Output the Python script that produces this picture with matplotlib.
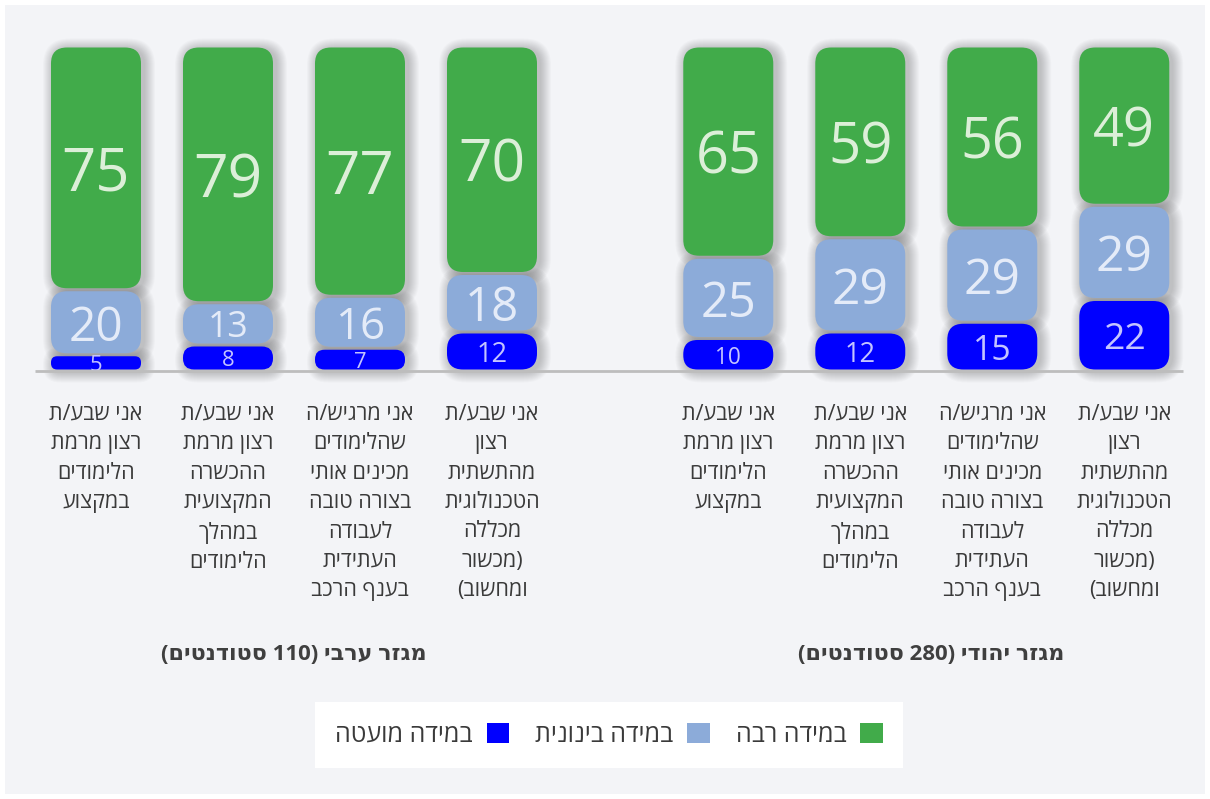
import re
import matplotlib
matplotlib.use("Agg")
import matplotlib.pyplot as plt
from matplotlib.patches import FancyBboxPatch, Rectangle, Patch

plt.rcParams['font.family'] = ['Open Sans', 'DejaVu Sans']

# ---------------- data ----------------
groups = ["מגזר ערבי (110 סטודנטים)", "מגזר יהודי (280 סטודנטים)"]
categories = [
    "אני שבע/ת\nרצון מרמת\nהלימודים\nבמקצוע",
    "אני שבע/ת\nרצון מרמת\nההכשרה\nהמקצועית\nבמהלך\nהלימודים",
    "אני מרגיש/ה\nשהלימודים\nמכינים אותי\nבצורה טובה\nלעבודה\nהעתידית\nבענף הרכב",
    "אני שבע/ת\nרצון\nמהתשתית\nהטכנולוגית\nמכללה\n(מכשור\nומחשוב)",
]
series_names = ["במידה מועטה", "במידה בינונית", "במידה רבה"]
arab_low = [5, 8, 7, 12]
arab_mid = [20, 13, 16, 18]
arab_high = [75, 79, 77, 70]
jewish_low = [10, 12, 15, 22]
jewish_mid = [25, 29, 29, 29]
jewish_high = [65, 59, 56, 49]

colors = ["#0000ff", "#8cabd9", "#41ab4a"]
text_colors = ["#c4c4ff", "#e4ebf8", "#dcefd8"]


def visual(s):
    """Convert logical RTL Hebrew line to visual (LTR drawn) order."""
    out = s[::-1].translate(str.maketrans('()', ')('))
    return re.sub(r'\d+', lambda m: m.group(0)[::-1], out)


def visual_lines(s):
    return "\n".join(visual(line) for line in s.split("\n"))


W, H = 1210, 799
fig = plt.figure(figsize=(W / 100, H / 100), dpi=100, facecolor="white")

ax = fig.add_axes([0, 0, 1, 1])
ax.set_facecolor("none")
# mapping: pixel x = 96 + 132*x ; pixel y(top) = 371 - 3.25*y
PXX, PXY = 132.0, 3.25
X0, Y0 = 96.0, 371.0
ax.set_xlim(-X0 / PXX, (W - X0) / PXX)
ax.set_ylim(-(H - Y0) / PXY, Y0 / PXY)
ax.axis("off")

# panel background
ax.add_patch(Rectangle((5 / W, 5 / H), 1200 / W, 789 / H, transform=ax.transAxes,
                       facecolor="#f3f4f7", edgecolor="none", zorder=0))

positions = [[0, 1, 2, 3], [4.79, 5.79, 6.79, 7.79]]
data = [[arab_low, arab_mid, arab_high], [jewish_low, jewish_mid, jewish_high]]

bar_w = 90 / PXX
gap = 1.5 / PXY
aspect = PXX / PXY


def rbox(x, y0, y1, rad_px, **kw):
    h_px = (y1 - y0) * PXY
    r = min(rad_px, h_px / 2 - 0.5) / PXX
    r = max(r, 0.001)
    p = FancyBboxPatch((x - bar_w / 2, y0), bar_w, y1 - y0,
                       boxstyle=f"round,pad=0,rounding_size={r}",
                       mutation_aspect=aspect, **kw)
    ax.add_patch(p)
    return p


def label_size(v, s):
    seg_px = v * PXY
    if s == 0:
        w = min(0.8 * seg_px, 43)
    else:
        w = min(0.97 * seg_px, 50 + 0.25 * v)
    fs_px = max(w / 1.15, 22)
    return fs_px * 0.72


for g in range(2):
    for i, x in enumerate(positions[g]):
        bottom = 0
        for s in range(3):
            v = data[g][s][i]
            y0 = bottom + gap
            y1 = bottom + v - gap
            # soft shadow
            for k in range(1, 12):
                ex = k / PXX
                ey = k / PXY
                h_px = (y1 - y0) * PXY + 2 * k
                r = min(16 + k, h_px / 2 - 0.5) / PXX
                sh = FancyBboxPatch((x - bar_w / 2 - ex + 3 / PXX, y0 - ey - 2 / PXY),
                                    bar_w + 2 * ex, y1 - y0 + 2 * ey,
                                    boxstyle=f"round,pad=0,rounding_size={r}",
                                    mutation_aspect=aspect, facecolor="black",
                                    edgecolor="none", alpha=0.02, zorder=1)
                ax.add_patch(sh)
            rbox(x, y0, y1, 16, facecolor=colors[s], edgecolor="none", zorder=2)
            ax.text(x, bottom + v / 2, str(v), ha="center", va="center_baseline",
                    fontsize=label_size(v, s), color=text_colors[s], zorder=3)
            bottom += v
        ax.text(x, -33 / PXY, visual_lines(categories[i]), ha="center", va="top",
                fontsize=15.5, color="#3a3a3a", linespacing=1.52, zorder=3)
    gx = (positions[g][0] + positions[g][-1]) / 2 + (0.04 if g == 1 else 0)
    ax.text(gx, -(655 - Y0) / PXY, visual(groups[g]), ha="center", va="center",
            fontsize=16, fontweight="bold", color="#3f3f3f", zorder=3)

# baseline
ax.plot([(35 - X0) / PXX, (1183 - X0) / PXX], [0, 0], color="#bdbdbd", lw=2, zorder=4,
        solid_capstyle="butt")

# legend (RTL: text left of marker)
handles = [Patch(facecolor=colors[s], edgecolor="none") for s in range(3)]
leg = fig.legend(handles, [visual(n) for n in series_names], ncol=3, markerfirst=False,
                 loc="center", bbox_to_anchor=(609 / W, 1 - 735 / H), frameon=True,
                 fontsize=18, handlelength=0.9, handleheight=0.85, handletextpad=0.55,
                 columnspacing=1.05, borderpad=0.82, borderaxespad=0, fancybox=False,
                 framealpha=1)
leg.get_frame().set_facecolor("white")
leg.get_frame().set_edgecolor("none")
for t in leg.get_texts():
    t.set_color("#3a3a3a")

fig.savefig("out.png", dpi=100, facecolor=fig.get_facecolor())
